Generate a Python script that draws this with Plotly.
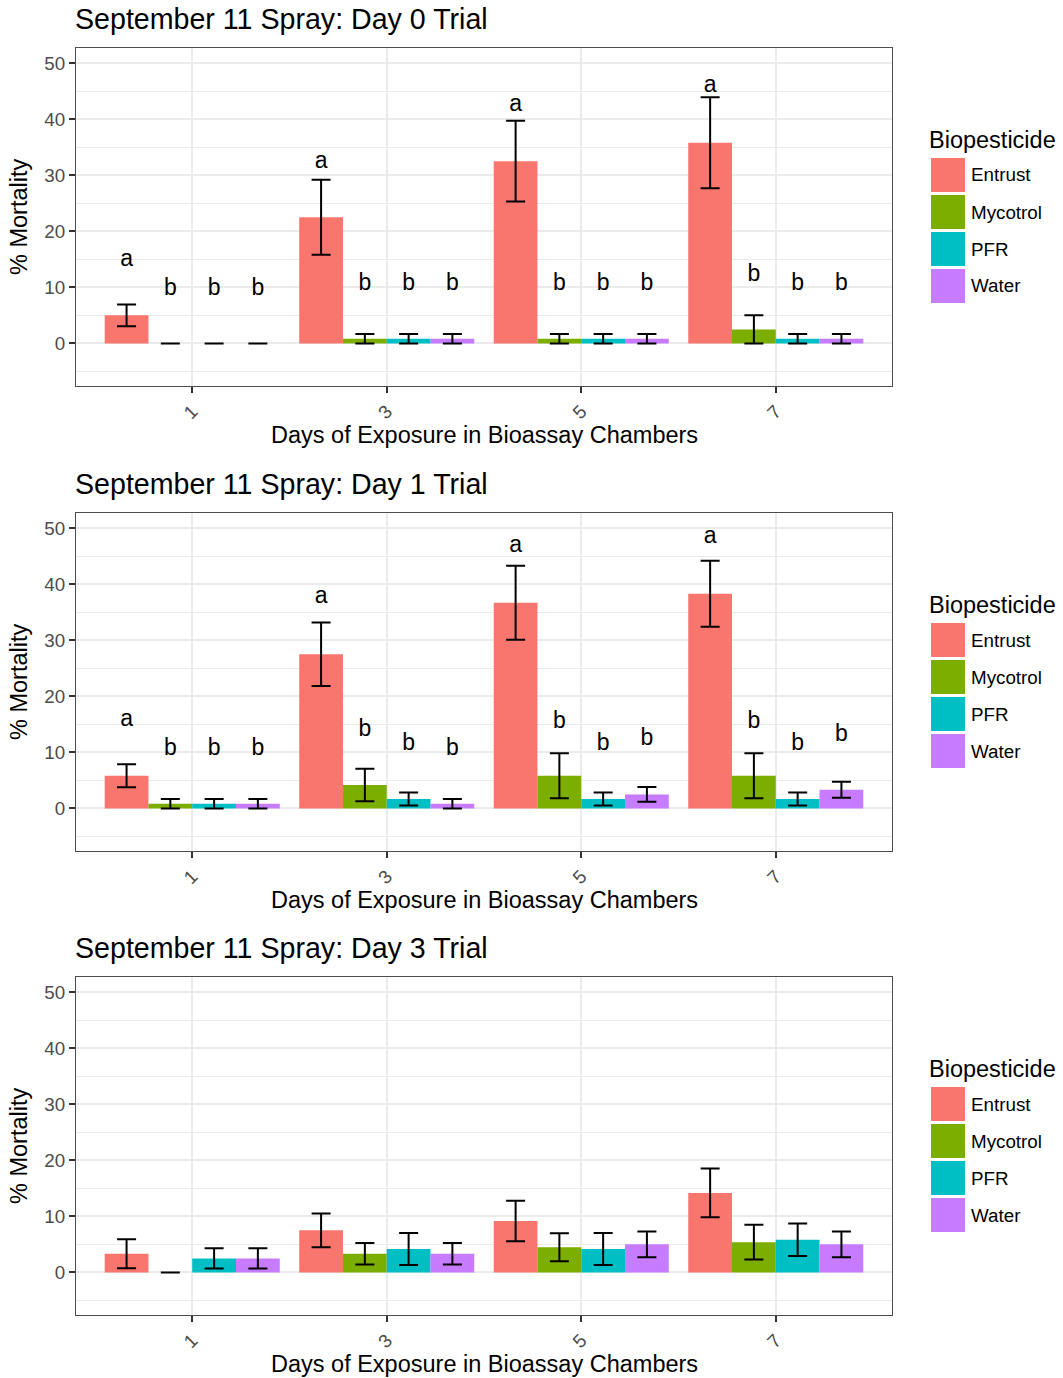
import plotly.graph_objects as go

# ---- data -------------------------------------------------------------
days = [1, 3, 5, 7]
products = ["Entrust", "Mycotrol", "PFR", "Water"]
colors = ["#F8766D", "#7CAE00", "#00BFC4", "#C77CFF"]
letters = ["a", "b", "b", "b"]

trial_titles = [
    "September 11 Spray: Day 0 Trial",
    "September 11 Spray: Day 1 Trial",
    "September 11 Spray: Day 3 Trial",
]

# mean % mortality, one row per product (Entrust, Mycotrol, PFR, Water)
day0_mean = [
    [5.0, 22.5, 32.5, 35.8],
    [0.0, 0.83, 0.83, 2.5],
    [0.0, 0.83, 0.83, 0.83],
    [0.0, 0.83, 0.83, 0.83],
]
day0_se = [
    [1.95, 6.7, 7.2, 8.1],
    [0.0, 0.83, 0.83, 2.5],
    [0.0, 0.83, 0.83, 0.83],
    [0.0, 0.83, 0.83, 0.83],
]
day0_label_y = [
    [14.8, 32.4, 42.5, 45.8],
    [9.7, 10.5, 10.6, 12.2],
    [9.7, 10.5, 10.6, 10.6],
    [9.7, 10.5, 10.6, 10.6],
]

day1_mean = [
    [5.83, 27.5, 36.7, 38.3],
    [0.83, 4.17, 5.83, 5.83],
    [0.83, 1.67, 1.67, 1.67],
    [0.83, 0.83, 2.5, 3.33],
]
day1_se = [
    [2.05, 5.65, 6.6, 5.9],
    [0.83, 2.9, 4.0, 4.0],
    [0.83, 1.15, 1.15, 1.15],
    [0.83, 0.83, 1.3, 1.43],
]
day1_label_y = [
    [15.7, 37.6, 46.8, 48.3],
    [10.5, 13.9, 15.4, 15.4],
    [10.5, 11.4, 11.4, 11.4],
    [10.5, 10.5, 12.3, 13.0],
]

day3_mean = [
    [3.33, 7.5, 9.17, 14.17],
    [0.0, 3.33, 4.5, 5.4],
    [2.5, 4.17, 4.17, 5.83],
    [2.5, 3.33, 5.0, 5.0],
]
day3_se = [
    [2.6, 3.0, 3.6, 4.35],
    [0.0, 1.9, 2.5, 3.1],
    [1.8, 2.85, 2.85, 2.9],
    [1.8, 1.9, 2.3, 2.3],
]

y_ticks = [0, 10, 20, 30, 40, 50]
y_minor = [-5, 5, 15, 25, 35, 45]

# ---- layout helpers ---------------------------------------------------
W, H = 1063, 1378
FONT = "Liberation Sans, Arial, Helvetica, sans-serif"
BASE = 23.5
BARGAP = 0.1
day_step = days[1] - days[0]
bar_w = day_step * (1 - BARGAP) / len(products)


def fx(p):
    return p / W


def fy(p):
    return 1 - p / H


panel_left, panel_right = 76, 892
panel_tops = [48, 513, 977]
panel_h = 338

panels = [
    (trial_titles[0], day0_mean, day0_se, day0_label_y),
    (trial_titles[1], day1_mean, day1_se, day1_label_y),
    (trial_titles[2], day3_mean, day3_se, None),
]

fig = go.Figure()
annotations = []
shapes = []

for i, (title, means, ses, label_y) in enumerate(panels):
    suffix = "" if i == 0 else str(i + 1)
    xa, ya = "x" + suffix, "y" + suffix
    top = panel_tops[i]
    bottom = top + panel_h

    for j, name in enumerate(products):
        fig.add_trace(go.Bar(
            x=days, y=means[j], name=name,
            marker=dict(color=colors[j], line=dict(width=0)),
            error_y=dict(type="data", array=ses[j], visible=True,
                         color="black", thickness=2, width=9.5),
            xaxis=xa, yaxis=ya, showlegend=False, hoverinfo="skip",
        ))

    if label_y is not None:
        for j, name in enumerate(products):
            offset = (j - (len(products) - 1) / 2) * bar_w
            fig.add_trace(go.Scatter(
                x=[d + offset for d in days], y=label_y[j],
                mode="text", text=[letters[j]] * len(days),
                textposition="middle center",
                textfont=dict(family=FONT, size=23, color="black"),
                xaxis=xa, yaxis=ya, showlegend=False, hoverinfo="skip",
            ))

    axis_common = dict(
        showline=True, mirror=True, linecolor="#4D4D4D", linewidth=1,
        ticks="outside", ticklen=6, tickwidth=1.5, tickcolor="#333333",
        tickfont=dict(family=FONT, size=18.8, color="#4D4D4D"),
        showgrid=True, gridcolor="#EBEBEB", gridwidth=1.8, zeroline=False,
    )
    fig.update_layout(**{
        ("xaxis" + suffix): dict(
            domain=[fx(panel_left), fx(panel_right)],
            anchor=ya, range=[-0.195, 8.195],
            tickmode="array", tickvals=days, ticktext=[str(d) for d in days],
            tickangle=-45, **axis_common),
        ("yaxis" + suffix): dict(
            domain=[fy(bottom), fy(top)],
            anchor=xa, range=[-7.6, 52.7],
            tickmode="array", tickvals=y_ticks,
            minor=dict(tickmode="array", tickvals=y_minor, showgrid=True,
                       gridcolor="#EBEBEB", gridwidth=1.2, ticklen=0),
            **axis_common),
    })

    # panel title
    annotations.append(dict(
        text=title, x=fx(panel_left - 3), y=fy(top - 29),
        xref="paper", yref="paper", xanchor="left", yanchor="middle",
        showarrow=False, font=dict(family=FONT, size=28.6, color="black")))
    # x-axis title
    annotations.append(dict(
        text="Days of Exposure in Bioassay Chambers",
        x=fx((panel_left + panel_right) / 2), y=fy(bottom + 49),
        xref="paper", yref="paper", xanchor="center", yanchor="middle",
        showarrow=False, font=dict(family=FONT, size=BASE, color="black")))
    # y-axis title
    annotations.append(dict(
        text="% Mortality", x=fx(19), y=fy((top + bottom) / 2),
        xref="paper", yref="paper", xanchor="center", yanchor="middle",
        textangle=-90, showarrow=False,
        font=dict(family=FONT, size=BASE, color="black")))

    # legend
    leg_title_y = top + 92
    annotations.append(dict(
        text="Biopesticide", x=fx(927), y=fy(leg_title_y),
        xref="paper", yref="paper", xanchor="left", yanchor="middle",
        showarrow=False, font=dict(family=FONT, size=BASE, color="black")))
    for j, name in enumerate(products):
        k_top = top + 110 + 37 * j
        shapes.append(dict(
            type="rect", xref="paper", yref="paper",
            x0=fx(931), x1=fx(965), y0=fy(k_top + 34), y1=fy(k_top),
            fillcolor=colors[j], line=dict(width=0)))
        annotations.append(dict(
            text=name, x=fx(969), y=fy(k_top + 17),
            xref="paper", yref="paper", xanchor="left", yanchor="middle",
            showarrow=False, font=dict(family=FONT, size=18.8, color="black")))

fig.update_layout(
    width=W, height=H, autosize=False,
    margin=dict(l=0, r=0, t=0, b=0),
    paper_bgcolor="white", plot_bgcolor="white",
    barmode="group", bargap=BARGAP, bargroupgap=0,
    annotations=annotations, shapes=shapes,
    font=dict(family=FONT),
)

fig.write_html("out.html")
